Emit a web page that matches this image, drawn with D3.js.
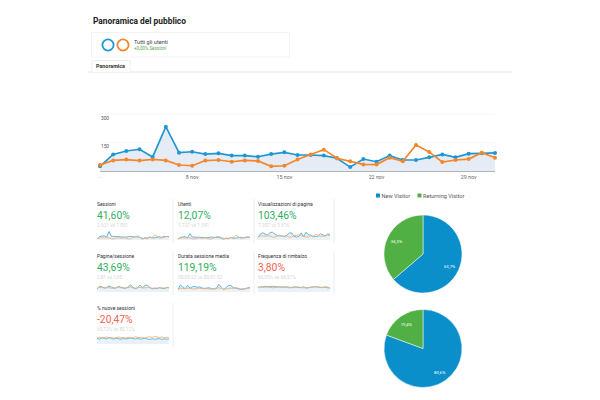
<!DOCTYPE html>
<html>
<head>
<meta charset="utf-8">
<script src="https://cdn.jsdelivr.net/npm/d3@7"></script>
<style>
  html, body { margin: 0; padding: 0; background: #fff; }
  svg { display: block; font-family: Roboto, Arial, sans-serif; }
</style>
</head>
<body>
<div id="chart"></div>
<script>
const blueColor = "#1f97d0";
const orangeColor = "#f5862a";
const pieBlue = "#0a8fcb";
const pieGreen = "#50b044";

// main chart, 1 nov - 1 dec
const days = d3.range(31);
const sessionsNew = [27, 89, 107, 116, 76, 234, 98, 103, 91, 95, 83, 83, 77, 91, 100, 86,
  86, 83, 69, 23, 65, 51, 83, 60, 60, 74, 89, 74, 93, 95, 97];
const sessionsOld = [34, 58, 62, 57, 63, 58, 34, 30, 57, 60, 51, 58, 55, 27, 30, 63,
  89, 114, 69, 53, 37, 36, 72, 53, 138, 102, 49, 60, 65, 98, 72];
const yTicks = [150, 300];
const xTickDays = [7, 14, 21, 28];
const xTickLabels = ["8 nov", "15 nov", "22 nov", "29 nov"];

// metric tiles
const metricNames = ["Sessioni", "Utenti", "Visualizzazioni di pagina", "Pagine/sessione",
  "Durata sessione media", "Frequenza di rimbalzo", "% nuove sessioni"];
const metricDeltas = ["41,60%", "12,07%", "103,46%", "43,69%", "119,19%", "3,80%", "-20,47%"];
const metricCompare = ["2.621 vs 1.851", "1.727 vs 1.541", "7.357 vs 3.616", "2,81 vs 1,95",
  "00:03:22 vs 00:01:32", "66,95% vs 64,51%", "63,72% vs 80,12%"];
const metricGood = [true, true, true, true, true, false, false];

const usersNew = [25, 70, 85, 92, 60, 175, 78, 82, 74, 76, 68, 66, 62, 72, 80, 70,
  70, 66, 55, 22, 55, 42, 68, 50, 50, 60, 72, 60, 74, 76, 78];
const usersOld = [32, 55, 58, 54, 60, 55, 32, 28, 54, 57, 48, 55, 52, 26, 28, 60,
  84, 100, 65, 50, 35, 34, 68, 50, 125, 95, 46, 56, 62, 90, 68];
const viewsNew = [30, 72, 85, 70, 58, 88, 92, 70, 50, 52, 48, 40, 55, 82, 85, 45,
  35, 42, 85, 40, 92, 62, 55, 38, 42, 45, 72, 62, 50, 72, 66];
const viewsOld = [35, 48, 50, 46, 50, 46, 35, 32, 48, 50, 44, 48, 46, 32, 34, 50,
  56, 62, 50, 44, 36, 36, 52, 44, 66, 58, 42, 46, 48, 58, 50];
const pagesNew = [35, 68, 62, 48, 52, 72, 60, 45, 50, 66, 55, 48, 45, 60, 85, 52,
  40, 52, 82, 50, 78, 80, 55, 38, 42, 40, 52, 45, 40, 52, 50];
const pagesOld = [42, 55, 52, 48, 50, 52, 44, 46, 50, 54, 50, 46, 48, 52, 58, 48,
  46, 50, 54, 46, 50, 52, 50, 44, 48, 46, 46, 48, 46, 52, 50];
const timeNew = [30, 85, 55, 40, 78, 45, 62, 66, 55, 60, 48, 42, 46, 50, 40, 35,
  40, 92, 55, 30, 48, 80, 76, 55, 45, 40, 30, 32, 38, 48, 55];
const timeOld = [35, 45, 42, 40, 44, 42, 38, 36, 42, 44, 40, 38, 40, 36, 34, 42,
  46, 48, 44, 38, 36, 40, 46, 42, 50, 46, 38, 40, 42, 46, 44];
const bounceNew = [55, 62, 60, 66, 65, 62, 68, 64, 60, 62, 58, 60, 62, 56, 55, 60,
  58, 52, 54, 62, 48, 50, 56, 60, 62, 58, 55, 56, 58, 50, 46];
const bounceOld = [52, 56, 54, 58, 56, 55, 50, 52, 56, 58, 54, 55, 52, 50, 50, 54,
  60, 58, 52, 50, 50, 48, 60, 56, 66, 58, 54, 52, 62, 58, 48];
const newSessNew = [55, 48, 62, 58, 50, 66, 55, 50, 58, 52, 48, 56, 50, 55, 60, 54,
  50, 56, 48, 52, 58, 50, 46, 52, 48, 50, 54, 46, 52, 48, 50];
const newSessOld = [60, 68, 62, 66, 70, 60, 66, 58, 64, 70, 62, 66, 60, 68, 62, 60,
  72, 66, 62, 66, 58, 68, 72, 66, 74, 70, 64, 72, 60, 68, 62];

const metricSeries = [
  [sessionsNew, sessionsOld, 300], [usersNew, usersOld, 300], [viewsNew, viewsOld, 130],
  [pagesNew, pagesOld, 130], [timeNew, timeOld, 130], [bounceNew, bounceOld, 130],
  [newSessNew, newSessOld, 110]
];

// pies
const visitorTypes = ["New Visitor", "Returning Visitor"];
const pieTop = [63.7, 36.3];
const pieBottom = [80.6, 19.4];

const svg = d3.select("#chart").append("svg")
  .attr("width", 600)
  .attr("height", 400);

// header
svg.append("text").attr("x", 93).attr("y", 24)
  .attr("font-size", 8.4).attr("font-weight", 700).attr("fill", "#222")
  .text("Panoramica del pubblico");
svg.append("rect").attr("x", 91.5).attr("y", 32.5).attr("width", 198).attr("height", 24.5)
  .attr("fill", "#fff").attr("stroke", "#f0f0f0").attr("stroke-width", 0.8);
svg.append("circle").attr("cx", 108).attr("cy", 45).attr("r", 5.6)
  .attr("fill", "none").attr("stroke", blueColor).attr("stroke-width", 1.8);
svg.append("circle").attr("cx", 123).attr("cy", 45).attr("r", 5.6)
  .attr("fill", "none").attr("stroke", orangeColor).attr("stroke-width", 1.8);
svg.append("text").attr("x", 134).attr("y", 43.5)
  .attr("font-size", 5.6).attr("fill", "#444").text("Tutti gli utenti");
svg.append("text").attr("x", 134).attr("y", 50)
  .attr("font-size", 4.5).attr("fill", "#58a84a").text("+0,00% Sessioni");

svg.append("line").attr("x1", 88).attr("x2", 512).attr("y1", 72).attr("y2", 72)
  .attr("stroke", "#ddd").attr("stroke-width", 0.8);
svg.append("path").attr("d", d3.line()([[92, 72], [92, 60.5], [130, 60.5], [130, 72]]))
  .attr("fill", "#fff").attr("stroke", "#e8e8e8").attr("stroke-width", 0.7);
svg.append("text").attr("x", 96).attr("y", 68)
  .attr("font-size", 5.4).attr("font-weight", 700).attr("fill", "#333").text("Panoramica");

// main chart
const x = d3.scaleLinear().domain([0, 30]).range([100, 495]);
const y = d3.scaleLinear().domain([0, 300]).range([171.5, 114]);

const gridG = svg.append("g");
gridG.selectAll("line").data(yTicks).enter().append("line")
  .attr("x1", 100).attr("x2", 495)
  .attr("y1", d => y(d)).attr("y2", d => y(d))
  .attr("stroke", "#f4f4f4").attr("stroke-width", 0.7);
gridG.selectAll("text").data(yTicks).enter().append("text")
  .attr("x", 105).attr("y", d => y(d) + 5.5)
  .attr("text-anchor", "middle")
  .attr("font-size", 4.8).attr("fill", "#555").text(d => d);

const area = d3.area().x((d, i) => x(i)).y0(y(0)).y1(d => y(d));
const line = d3.line().x((d, i) => x(i)).y(d => y(d));

svg.append("path").attr("d", area(sessionsNew)).attr("fill", "#e6ecf6");
svg.append("line").attr("x1", 100).attr("x2", 495).attr("y1", y(0)).attr("y2", y(0))
  .attr("stroke", "#aaa").attr("stroke-width", 0.9);

[[sessionsNew, blueColor], [sessionsOld, orangeColor]].forEach(([values, color]) => {
  svg.append("path").attr("d", line(values))
    .attr("fill", "none").attr("stroke", color).attr("stroke-width", 1.7);
  svg.append("g").selectAll("circle").data(values).enter().append("circle")
    .attr("cx", (d, i) => x(i)).attr("cy", d => y(d)).attr("r", 2).attr("fill", color);
});

svg.append("g").selectAll("text").data(xTickDays).enter().append("text")
  .attr("x", d => x(d)).attr("y", 178.5)
  .attr("text-anchor", "middle").attr("font-size", 5.3).attr("fill", "#666")
  .text((d, i) => xTickLabels[i]);
svg.append("text").attr("x", 100).attr("y", 178).attr("text-anchor", "middle")
  .attr("font-size", 4.4).attr("fill", "#888").text("...");

// metric tiles
const colX = [97, 178, 258];
const rowY = [204, 256, 308];
metricNames.forEach((name, i) => {
  const tx = colX[i % 3], ty = rowY[Math.floor(i / 3)];
  const g = svg.append("g");
  g.append("text").attr("x", tx).attr("y", ty + 1.5)
    .attr("font-size", 5).attr("fill", "#333").text(name);
  g.append("text").attr("x", tx).attr("y", ty + 14.5)
    .attr("font-size", 10.3).attr("fill", metricGood[i] ? "#2fae62" : "#f0614f").text(metricDeltas[i]);
  g.append("text").attr("x", tx).attr("y", ty + 22.5)
    .attr("font-size", 4.8).attr("fill", "#d6d6d6").text(metricCompare[i]);

  const [newVals, oldVals, maxVal] = metricSeries[i];
  const sx = d3.scaleLinear().domain([0, 30]).range([tx, tx + 72]);
  const sy = d3.scaleLinear().domain([0, maxVal]).range([ty + 36, ty + 25]);
  const sArea = d3.area().x((d, j) => sx(j)).y0(ty + 36).y1(d => sy(d));
  const sLine = d3.line().x((d, j) => sx(j)).y(d => sy(d));
  g.append("path").attr("d", sArea(newVals)).attr("fill", "#eaf2f9");
  g.append("path").attr("d", sLine(newVals)).attr("fill", "none")
    .attr("stroke", "#55b0dc").attr("stroke-width", 0.9);
  g.append("path").attr("d", sLine(oldVals)).attr("fill", "none")
    .attr("stroke", "#eeb078").attr("stroke-width", 0.9);
  g.append("line").attr("x1", tx + 76).attr("x2", tx + 76)
    .attr("y1", ty - 5).attr("y2", ty + 39)
    .attr("stroke", "#e8e8e8").attr("stroke-width", 0.8);
});

// legend
const legendX = [376, 417.5], legendTextX = [381.5, 423];
visitorTypes.forEach((t, i) => {
  svg.append("rect").attr("x", legendX[i]).attr("y", 193.5).attr("width", 4).attr("height", 4)
    .attr("fill", i ? pieGreen : pieBlue);
  svg.append("text").attr("x", legendTextX[i]).attr("y", 197.5)
    .attr("font-size", 5.6).attr("fill", "#555").text(t);
});

// pies
function drawPie(values, cx, cy) {
  const r = 39;
  const pie = d3.pie().sort(null)(values);
  const arc = d3.arc().innerRadius(0).outerRadius(r);
  const g = svg.append("g").attr("transform", `translate(${cx},${cy})`);
  g.selectAll("path").data(pie).enter().append("path")
    .attr("d", arc)
    .attr("fill", (d, i) => i ? pieGreen : pieBlue)
    .attr("stroke", "#fff").attr("stroke-width", 0.5);
  const labelArc = d3.arc().innerRadius(r * 0.75).outerRadius(r * 0.75);
  g.selectAll("text").data(pie).enter().append("text")
    .attr("transform", d => `translate(${labelArc.centroid(d)})`)
    .attr("text-anchor", "middle").attr("dy", 1.5)
    .attr("font-size", 4.3).attr("fill", "#fff")
    .text(d => d.value.toFixed(1).replace(".", ",") + "%");
}
drawPie(pieTop, 423, 254);
drawPie(pieBottom, 423, 348.5);
</script>
</body>
</html>
